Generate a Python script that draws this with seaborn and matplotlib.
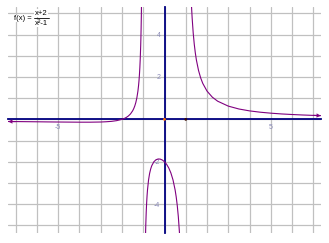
import matplotlib
matplotlib.use("Agg")
import matplotlib.pyplot as plt
import seaborn as sns
import pandas as pd
from matplotlib.lines import Line2D

# ---- data ----
left_x = [-7.35, -7, -6.5, -6, -5.5, -5, -4.5, -4, -3.5, -3, -2.75, -2.5, -2.25, -2, -1.9, -1.8,
          -1.7, -1.6, -1.5, -1.45, -1.4, -1.35, -1.3, -1.25, -1.22, -1.2, -1.18, -1.16, -1.14,
          -1.12, -1.11, -1.10, -1.09, -1.08, -1.075]
left_y = [-0.101, -0.104, -0.109, -0.114, -0.120, -0.125, -0.129, -0.133, -0.133, -0.125, -0.113,
          -0.095, -0.060, 0.0, 0.038, 0.089, 0.159, 0.256, 0.400, 0.499, 0.625, 0.790, 1.014,
          1.333, 1.597, 1.818, 2.090, 2.431, 2.870, 3.459, 3.835, 4.286, 4.838, 5.529, 5.944]

mid_x = [-0.92, -0.9, -0.88, -0.86, -0.84, -0.82, -0.8, -0.75, -0.7, -0.65, -0.6, -0.5, -0.4,
         -0.3, -0.2, -0.1, 0.0, 0.1, 0.2, 0.3, 0.4, 0.5, 0.55, 0.6, 0.65, 0.7, 0.73]
mid_y = [-7.03, -5.79, -4.965, -4.378, -3.940, -3.602, -3.333, -2.857, -2.549, -2.338, -2.188,
         -2.0, -1.905, -1.868, -1.875, -1.919, -2.0, -2.121, -2.292, -2.527, -2.857, -3.333,
         -3.656, -4.063, -4.589, -5.294, -5.845]

right_x = [1.2, 1.24, 1.27, 1.3, 1.35, 1.4, 1.45, 1.5, 1.6, 1.7, 1.8, 2.0, 2.25, 2.5, 3.0, 3.5,
           4.0, 4.5, 5.0, 5.5, 6.0, 6.5, 7.0, 7.35]
right_y = [7.27, 6.027, 5.335, 4.783, 4.073, 3.542, 3.129, 2.8, 2.308, 1.958, 1.696, 1.333,
           1.046, 0.857, 0.625, 0.489, 0.4, 0.338, 0.292, 0.256, 0.229, 0.206, 0.1875, 0.176]

x_ticks = [-7, -6, -5, -4, -3, -2, -1, 0, 1, 2, 3, 4, 5, 6, 7]
x_tick_labels = ["", "", "-5", "", "", "", "", "", "", "", "", "", "5", "", ""]
y_ticks = [-5, -4, -3, -2, -1, 0, 1, 2, 3, 4, 5]
y_tick_labels = ["", "-4", "", "-2", "", "", "", "2", "", "4", ""]

mark_x = [0, 1]
mark_y = [0, 0]
mark_colors = ["#ff6a00", "#3a0a00"]

x_limits = (-7.36, 7.36)
y_limits = (-5.36, 5.30)

# ---- style ----
sns.set_theme(style="white")
plt.rcParams["font.family"] = ["Liberation Sans", "DejaVu Sans"]

W, H = 329, 243
fig = plt.figure(figsize=(W / 100, H / 100), dpi=100)
fig.patch.set_facecolor("white")
ax = fig.add_axes([8 / W, 10 / H, 313 / W, 226 / H])
ax.set_facecolor("white")

navy = "#000080"
purple = "#800080"

ax.set_xlim(*x_limits)
ax.set_ylim(*y_limits)
ax.set_xticks(x_ticks)
ax.set_xticklabels(x_tick_labels)
ax.set_yticks(y_ticks)
ax.set_yticklabels(y_tick_labels)
ax.grid(True, color="#c0c0c0", linewidth=0.9, zorder=0)
ax.set_axisbelow(True)

for side in ["top", "right"]:
    ax.spines[side].set_visible(False)
ax.spines["left"].set_position(("data", 0))
ax.spines["bottom"].set_position(("data", 0))
for side in ["left", "bottom"]:
    ax.spines[side].set_color(navy)
    ax.spines[side].set_linewidth(1.3)
    ax.spines[side].set_zorder(2)

ax.tick_params(axis="both", direction="inout", length=4, width=1.0, color=navy,
               labelsize=5, labelcolor="#8a8ab8", pad=1)

# curve branches
branches = pd.concat([
    pd.DataFrame({"x": left_x, "y": left_y, "b": "left"}),
    pd.DataFrame({"x": mid_x, "y": mid_y, "b": "mid"}),
    pd.DataFrame({"x": right_x, "y": right_y, "b": "right"}),
])
for name, df in branches.groupby("b"):
    sns.lineplot(data=df, x="x", y="y", sort=False, color=purple, linewidth=0.8,
                 ax=ax, zorder=3, estimator=None)

# arrow heads at the curve ends
ax.annotate("", xy=(left_x[0], left_y[0]), xytext=(left_x[1], left_y[1]),
            arrowprops=dict(arrowstyle="->", color=purple, lw=0.8, shrinkA=0, shrinkB=0,
                            mutation_scale=5), annotation_clip=False, zorder=4)
ax.annotate("", xy=(right_x[-1], right_y[-1]), xytext=(right_x[-2], right_y[-2]),
            arrowprops=dict(arrowstyle="->", color=purple, lw=0.8, shrinkA=0, shrinkB=0,
                            mutation_scale=5), annotation_clip=False, zorder=4)

sns.scatterplot(x=mark_x, y=mark_y, hue=mark_x, palette=mark_colors, s=4, linewidth=0,
                legend=False, ax=ax, zorder=5)

ax.set_xlabel("")
ax.set_ylabel("")

# formula title (pixel coordinates of the 329x243 image)
def fx(px):
    return px / W

def fy(py):
    return 1 - py / H

fig.text(fx(14.5), fy(18.5), "f(x) =", fontsize=5.5, color="black", ha="left", va="center",
         bbox=dict(facecolor="white", edgecolor="none", pad=0.3))
fig.text(fx(41), fy(13.3), "x+2", fontsize=5.5, color="black", ha="center", va="center",
         bbox=dict(facecolor="white", edgecolor="none", pad=0.3))
fig.text(fx(41), fy(23.5), "x\u00b2-1", fontsize=5.5, color="black", ha="center", va="center",
         bbox=dict(facecolor="white", edgecolor="none", pad=0.3))
fig.add_artist(Line2D([fx(33.5), fx(49)], [fy(18.5), fy(18.5)], color="black", linewidth=0.6))

fig.savefig("out.png", dpi=100)
